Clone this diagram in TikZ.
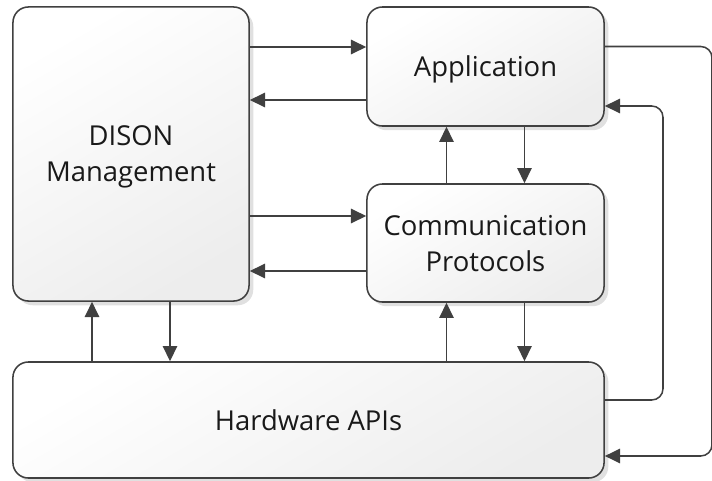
\documentclass[tikz,border=0pt]{standalone}
\usepackage{fontspec}
\setmainfont{Open Sans}
\usetikzlibrary{shapes,arrows.meta,positioning,calc,shadows}

\definecolor{linec}{HTML}{404040}

\tikzset{
  block/.style={draw=linec, line width=1.1pt, rounded corners=11pt,
    top color=white, bottom color=black!7, shading angle=30,
    drop shadow={shadow xshift=3pt, shadow yshift=-3pt, opacity=0.12, fill=black},
    align=center, text depth=0pt, font=\fontsize{19.5}{25.6}\selectfont, text=black!90},
  link/.style={->, draw=linec, line width=1.1pt, >={Triangle[length=0.38cm,width=0.36cm]}},
}

\begin{document}
\begin{tikzpicture}[x=0.025cm, y=-0.025cm]
    \useasboundingbox (0,0) rectangle (712,481);

    \node (dison) [block, minimum width=5.9cm, minimum height=7.35cm] at (131,154) {DISON\\Management};
    \node (app) [block, minimum width=5.925cm, minimum height=2.975cm] at (485.5,66.5) {Application};
    \node (comm) [block, minimum width=5.925cm, minimum height=2.95cm] at (485.5,243) {Communication\\Protocols};
    \node (hw) [block, minimum width=14.775cm, minimum height=2.9cm] at (308.5,420) {Hardware APIs};

    % DISON <-> application / protocols
    \draw [link] ([yshift=19.5*0.025cm]dison.east |- app.west) -- ([yshift=19.5*0.025cm]app.west);
    \draw [link] ([yshift=-33.5*0.025cm]app.west) -- ([yshift=-33.5*0.025cm]dison.east |- app.west);
    \draw [link] ([yshift=27*0.025cm]dison.east |- comm.west) -- ([yshift=27*0.025cm]comm.west);
    \draw [link] ([yshift=-28*0.025cm]comm.west) -- ([yshift=-28*0.025cm]dison.east |- comm.west);

    % application <-> protocols
    \draw [link] ([xshift=-39*0.025cm]comm.north) -- ([xshift=-39*0.025cm]app.south);
    \draw [link] ([xshift=39*0.025cm]app.south) -- ([xshift=39*0.025cm]comm.north);

    % hardware <-> DISON / protocols
    \draw [link] ([xshift=-39*0.025cm]dison.south |- hw.north) -- ([xshift=-39*0.025cm]dison.south);
    \draw [link] ([xshift=39*0.025cm]dison.south) -- ([xshift=39*0.025cm]dison.south |- hw.north);
    \draw [link] ([xshift=-39*0.025cm]comm.south |- hw.north) -- ([xshift=-39*0.025cm]comm.south);
    \draw [link] ([xshift=39*0.025cm]comm.south) -- ([xshift=39*0.025cm]comm.south |- hw.north);

    % loops on the right
    \coordinate (outa) at (712,46.5);
    \coordinate (outb) at (712,456);
    \coordinate (ina) at (663,400);
    \coordinate (inb) at (663,106);
    \draw [link, rounded corners=8pt] (app.east |- outa) -- (outa) -- (outb) -- (hw.east |- outb);
    \draw [link, rounded corners=8pt] (hw.east |- ina) -- (ina) -- (inb) -- (app.east |- inb);
\end{tikzpicture}
\end{document}
